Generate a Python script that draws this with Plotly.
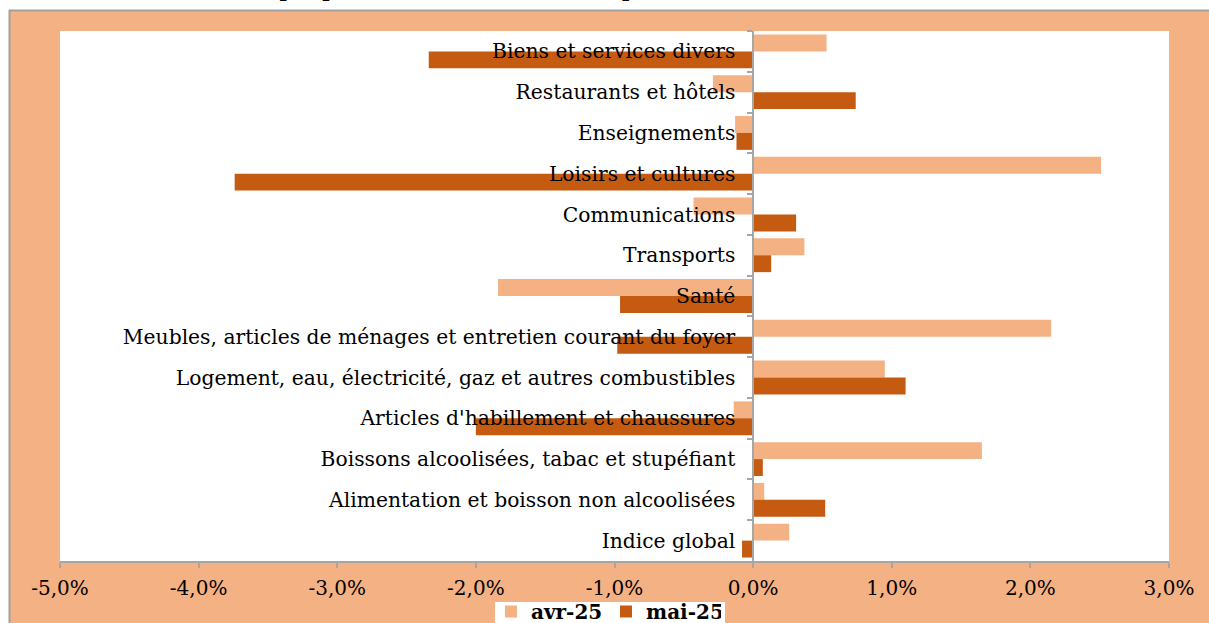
import plotly.graph_objects as go

categories = [
    "Biens et services divers",
    "Restaurants et hôtels",
    "Enseignements",
    "Loisirs et cultures",
    "Communications",
    "Transports",
    "Santé",
    "Meubles, articles de ménages et entretien courant du foyer",
    "Logement, eau, électricité, gaz et autres combustibles",
    "Articles d'habillement et chaussures",
    "Boissons alcoolisées, tabac et stupéfiant",
    "Alimentation et boisson non alcoolisées",
    "Indice global",
]
avr_25 = [0.53, -0.29, -0.13, 2.51, -0.43, 0.37, -1.84, 2.15, 0.95, -0.14, 1.65, 0.08, 0.26]
mai_25 = [-2.34, 0.74, -0.12, -3.74, 0.31, 0.13, -0.96, -0.98, 1.10, -2.00, 0.07, 0.52, -0.08]
series_names = ["avr-25", "mai-25"]
x_tick_vals = [-5, -4, -3, -2, -1, 0, 1, 2, 3]
x_tick_text = ["-5,0%", "-4,0%", "-3,0%", "-2,0%", "-1,0%", "0,0%", "1,0%", "2,0%", "3,0%"]
title_text = "Graphique 2 : Variation de l'IHPC par fonction en avril et mai 2025"

LIGHT = "#F4B183"
DARK = "#C55A11"
GRAY = "#A6A6A6"
SERIF = "DejaVu Serif, Liberation Serif, serif"

fig = go.Figure()
fig.add_trace(go.Bar(y=categories, x=avr_25, name=series_names[0], orientation="h",
                     marker=dict(color=LIGHT, line=dict(width=0))))
fig.add_trace(go.Bar(y=categories, x=mai_25, name=series_names[1], orientation="h",
                     marker=dict(color=DARK, line=dict(width=0))))

# page is 1209x623 in the window; figure drawn a bit taller and cropped by the window
W, H = 1209, 640
PL, PR, PT, PB = 60, 1169, 31, 561   # plot area edges in pixels
L, R, T, B = PL, W - PR, PT, H - PB
pw, ph = PR - PL, PB - PT

def px(x):
    return (x - PL) / pw

def py(y):
    return (PB - y) / ph

fig.update_layout(
    width=W, height=H,
    margin=dict(l=L, r=R, t=T, b=B, pad=0, autoexpand=False),
    paper_bgcolor=LIGHT,
    plot_bgcolor="white",
    barmode="group",
    bargap=0.17,
    bargroupgap=0,
    font=dict(family=SERIF, color="black", size=20),
    showlegend=True,
    legend=dict(orientation="h", xref="container", yref="container",
                x=491 / W, xanchor="left", y=(H - 592) / H, yanchor="top",
                bgcolor="rgba(0,0,0,0)", font=dict(family=SERIF, size=20, color="black", weight="bold"),
                itemwidth=30, tracegroupgap=0, entrywidth=70),
    xaxis=dict(range=[-5, 3], tickvals=x_tick_vals, ticktext=x_tick_text,
               showgrid=False, zeroline=False, showline=True, linecolor=GRAY, linewidth=1.5,
               ticks="outside", ticklen=5, tickcolor=GRAY, tickwidth=1.5,
               tickfont=dict(family=SERIF, size=20, color="black"), ticklabelstandoff=3,
               fixedrange=True),
    yaxis=dict(autorange="reversed", anchor="free", position=0.625,
               showgrid=False, zeroline=False, showline=True, linecolor=GRAY, linewidth=1.5,
               ticks="outside", ticklen=5, tickcolor=GRAY, tickwidth=1.5, tickson="boundaries",
               tickfont=dict(family=SERIF, size=20.3, color="black"), ticklabelstandoff=13,
               layer="above traces", fixedrange=True),
    shapes=[
        dict(type="rect", xref="paper", yref="paper", x0=px(-5), x1=px(W + 5), y0=py(-5), y1=py(10),
             fillcolor="white", line=dict(width=0), layer="below"),
        dict(type="rect", xref="paper", yref="paper", x0=px(-5), x1=px(9), y0=py(H + 5), y1=py(-5),
             fillcolor="white", line=dict(width=0), layer="below"),
        dict(type="line", xref="paper", yref="paper", x0=px(9.5), x1=px(9.5), y0=py(10), y1=py(H + 5),
             line=dict(color="#A0A0A0", width=2), layer="below"),
        dict(type="line", xref="paper", yref="paper", x0=px(9), x1=px(W + 5), y0=py(10.5), y1=py(10.5),
             line=dict(color="#A0A0A0", width=2), layer="below"),
        # white legend box
        dict(type="rect", xref="paper", yref="paper", x0=px(495), x1=px(725), y0=py(H + 5), y1=py(602),
             fillcolor="white", line=dict(width=0), layer="below"),
    ],
    annotations=[
        dict(text="<b>" + title_text + "</b>", xref="paper", yref="paper",
             x=px(615), y=py(4), xanchor="center", yanchor="bottom", showarrow=False,
             font=dict(family=SERIF, size=20, color="black")),
    ],
)

fig.write_html("out.html", config={"displayModeBar": False},
               post_script="document.body.style.margin='0';document.body.style.overflow='hidden';"
                           "document.documentElement.style.overflow='hidden';")
